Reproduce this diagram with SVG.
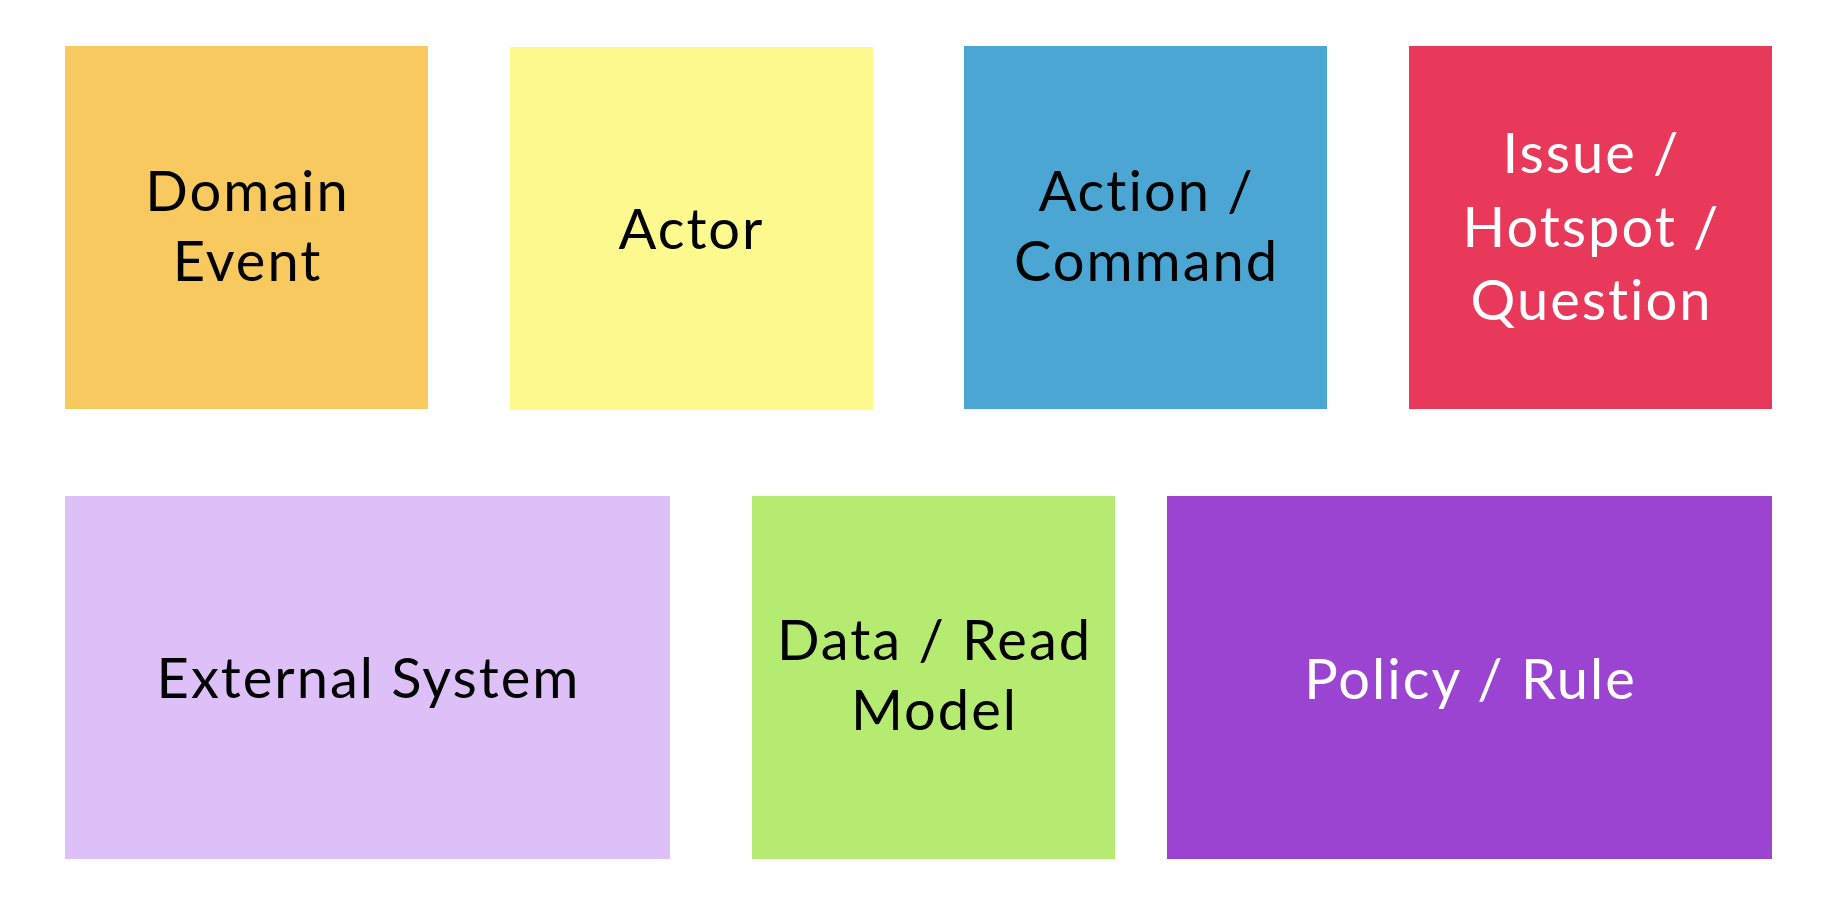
<svg xmlns="http://www.w3.org/2000/svg" width="1838" height="908" viewBox="0 0 1838 908">
<style>
.t{font-family:Lato,"Liberation Sans",sans-serif;font-size:56px;text-anchor:middle;fill:#000;letter-spacing:2px;font-variant-ligatures:none;font-feature-settings:"liga" 0}
.w{fill:#fff}
</style>
<rect x="0" y="0" width="1838" height="908" fill="#fff"/>
<g id="domain-event"><rect x="65" y="46" width="363" height="363" fill="#F7C95F"/><text class="t"><tspan x="247.5" y="210.7">Domain</tspan><tspan x="247.5" y="280.7">Event</tspan></text></g>
<g id="actor"><rect x="510" y="47" width="363" height="363" fill="#FCFA8F"/><text class="t" x="691.5" y="248.5">Actor</text></g>
<g id="action-command"><rect x="964" y="46" width="363" height="363" fill="#4BA6D3"/><text class="t"><tspan x="1146.5" y="210.5">Action /</tspan><tspan x="1146.5" y="280.5">Command</tspan></text></g>
<g id="issue"><rect x="1409" y="46" width="363" height="363" fill="#E8395B"/><text class="t w"><tspan x="1591.5" y="173.3">Issue /</tspan><tspan x="1591.5" y="246.5">Hotspot /</tspan><tspan x="1591.5" y="320">Question</tspan></text></g>
<g id="external-system"><rect x="65" y="496" width="605" height="363" fill="#DCC0F7"/><text class="t" x="368.5" y="698">External System</text></g>
<g id="data-read-model"><rect x="752" y="496" width="363" height="363" fill="#B5EB70"/><text class="t"><tspan x="934.5" y="660">Data / Read</tspan><tspan x="934.5" y="730">Model</tspan></text></g>
<g id="policy-rule"><rect x="1167" y="496" width="605" height="363" fill="#9B44D1"/><text class="t w" x="1470.5" y="698.5">Policy / Rule</text></g>
<g id="connectors"/>
</svg>
